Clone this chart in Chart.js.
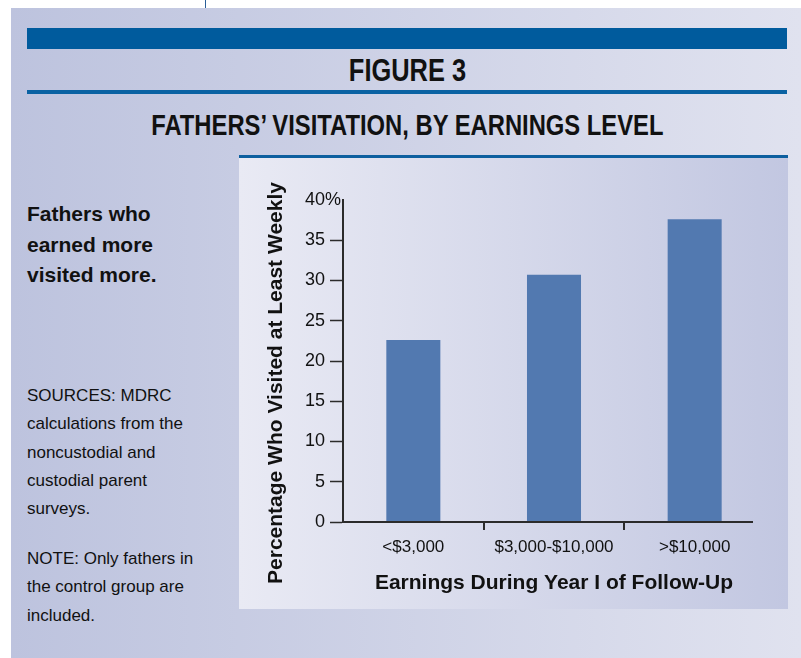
<!DOCTYPE html>
<html>
<head>
<meta charset="utf-8">
<script src="https://cdn.jsdelivr.net/npm/chart.js@4.4.1/dist/chart.umd.min.js"></script>
<style>
  html, body { margin: 0; padding: 0; width: 801px; height: 658px; overflow: hidden; background: #fff; }
  body { position: relative; font-family: 'Liberation Sans', Arial, sans-serif; color: #111; }
  .abs { position: absolute; }
  .narrow { display: inline-block; transform: scaleX(0.82); }
  #topTick { left: 205px; top: 0; width: 1px; height: 8px; background: #2a5f98; }
  #outer { left: 11px; top: 8px; width: 790px; height: 650px; background: linear-gradient(to right, #bdc3de, #e0e2ef); }
  #band { left: 27px; top: 28px; width: 760px; height: 21px; background: #005b9d; }
  #figLabel { left: 27px; top: 55px; width: 760px; text-align: center; font: bold 31px/31px 'Liberation Sans', sans-serif; }
  #rule1 { left: 27px; top: 90px; width: 760px; height: 4px; background: #0a62a3; }
  #title { left: 27px; top: 111px; width: 760px; text-align: center; font: bold 29px/29px 'Liberation Sans', sans-serif; }
  #rule2 { left: 239px; top: 155px; width: 549px; height: 3px; background: #0d5f9f; }
  #chartPanel { left: 239px; top: 158px; width: 549px; height: 451px; background: linear-gradient(to right, #e9eaf4, #c2c7e1); }
  #lead { left: 27px; top: 199px; font: bold 21px/30.5px 'Liberation Sans', sans-serif; }
  #sources { left: 27px; top: 382px; font: 17px/28.3px 'Liberation Sans', sans-serif; }
  #note { left: 27px; top: 545px; font: 17px/28.3px 'Liberation Sans', sans-serif; }
</style>
</head>
<body>
<div class="abs" id="topTick"></div>
<div class="abs" id="outer"></div>
<div class="abs" id="band"></div>
<div class="abs" id="figLabel"><span class="narrow">FIGURE 3</span></div>
<div class="abs" id="rule1"></div>
<div class="abs" id="title"><span class="narrow">FATHERS’ VISITATION, BY EARNINGS LEVEL</span></div>
<div class="abs" id="rule2"></div>
<div class="abs" id="chartPanel"><canvas id="chart" width="549" height="451"></canvas></div>
<div class="abs" id="lead">Fathers who<br>earned more<br>visited more.</div>
<div class="abs" id="sources">SOURCES: MDRC<br>calculations from the<br>noncustodial and<br>custodial parent<br>surveys.</div>
<div class="abs" id="note">NOTE: Only fathers in<br>the control group are<br>included.</div>

<script>
// data
const categories = ['<$3,000', '$3,000-$10,000', '>$10,000'];
const visitedWeekly = [22.6, 30.7, 37.6];
const yMin = 0;
const yMax = 40;
const yStep = 5;

const yTitle = 'Percentage Who Visited at Least Weekly';
const xTitle = 'Earnings During Year I of Follow-Up';

const fontFamily = "'Liberation Sans', Arial, sans-serif";
const axisColor = '#2b2b2b';

// axis line along zero, category divider ticks, rotated y title, % sign on top label
const axisExtras = {
  id: 'axisExtras',
  afterDatasetsDraw(chart) {
    const { ctx, chartArea, scales: { x, y } } = chart;
    const y0 = y.getPixelForValue(0);
    ctx.save();
    ctx.strokeStyle = axisColor;
    ctx.lineWidth = 2;
    ctx.beginPath();
    ctx.moveTo(chartArea.left, y0);
    ctx.lineTo(chartArea.right - 12, y0);
    for (let i = 0; i < categories.length - 1; i++) {
      const bx = Math.round((x.getPixelForValue(i) + x.getPixelForValue(i + 1)) / 2);
      ctx.moveTo(bx, y0);
      ctx.lineTo(bx, y0 + 8);
    }
    ctx.stroke();

    // y title
    ctx.fillStyle = '#111';
    ctx.font = 'bold 21px ' + fontFamily;
    ctx.textAlign = 'center';
    ctx.textBaseline = 'alphabetic';
    ctx.translate(chartArea.left - 61, (chartArea.top + chartArea.bottom) / 2 + 22);
    ctx.rotate(-Math.PI / 2);
    ctx.fillText(yTitle, 0, 0);
    ctx.restore();

    // percent sign after the top tick label
    ctx.save();
    ctx.fillStyle = '#111';
    ctx.font = '18px ' + fontFamily;
    ctx.textAlign = 'left';
    ctx.textBaseline = 'middle';
    ctx.fillText('%', chartArea.left - 18, y.getPixelForValue(yMax));
    ctx.restore();
  }
};

new Chart(document.getElementById('chart'), {
  type: 'bar',
  data: {
    labels: categories,
    datasets: [{
      data: visitedWeekly,
      backgroundColor: '#5279b0',
      borderWidth: 0,
      barPercentage: 0.384,
      categoryPercentage: 1
    }]
  },
  options: {
    responsive: false,
    animation: false,
    devicePixelRatio: 1,
    layout: { padding: { left: 0, top: 42, right: 23, bottom: 0 } },
    plugins: { legend: { display: false }, tooltip: { enabled: false } },
    scales: {
      x: {
        grid: { display: false, drawTicks: false },
        border: { display: false },
        ticks: { font: { family: fontFamily, size: 17 }, color: '#111', padding: 15, maxRotation: 0, autoSkip: false },
        title: {
          display: true,
          text: xTitle,
          color: '#111',
          font: { family: fontFamily, size: 21, weight: 'bold' },
          padding: { top: 0, bottom: 13 }
        },
        afterFit(scale) { scale.height = 87; }
      },
      y: {
        min: yMin,
        max: yMax,
        ticks: { stepSize: yStep, font: { family: fontFamily, size: 18 }, color: '#111', padding: 5 },
        grid: {
          drawOnChartArea: false,
          drawTicks: true,
          tickLength: 13,
          tickWidth: 1.5,
          tickColor: ctx => (ctx.tick && ctx.tick.value === yMax ? 'rgba(0,0,0,0)' : axisColor)
        },
        border: { display: true, color: axisColor, width: 2 },
        afterFit(scale) { scale.width = 104; }
      }
    }
  },
  plugins: [axisExtras]
});
</script>
</body>
</html>
